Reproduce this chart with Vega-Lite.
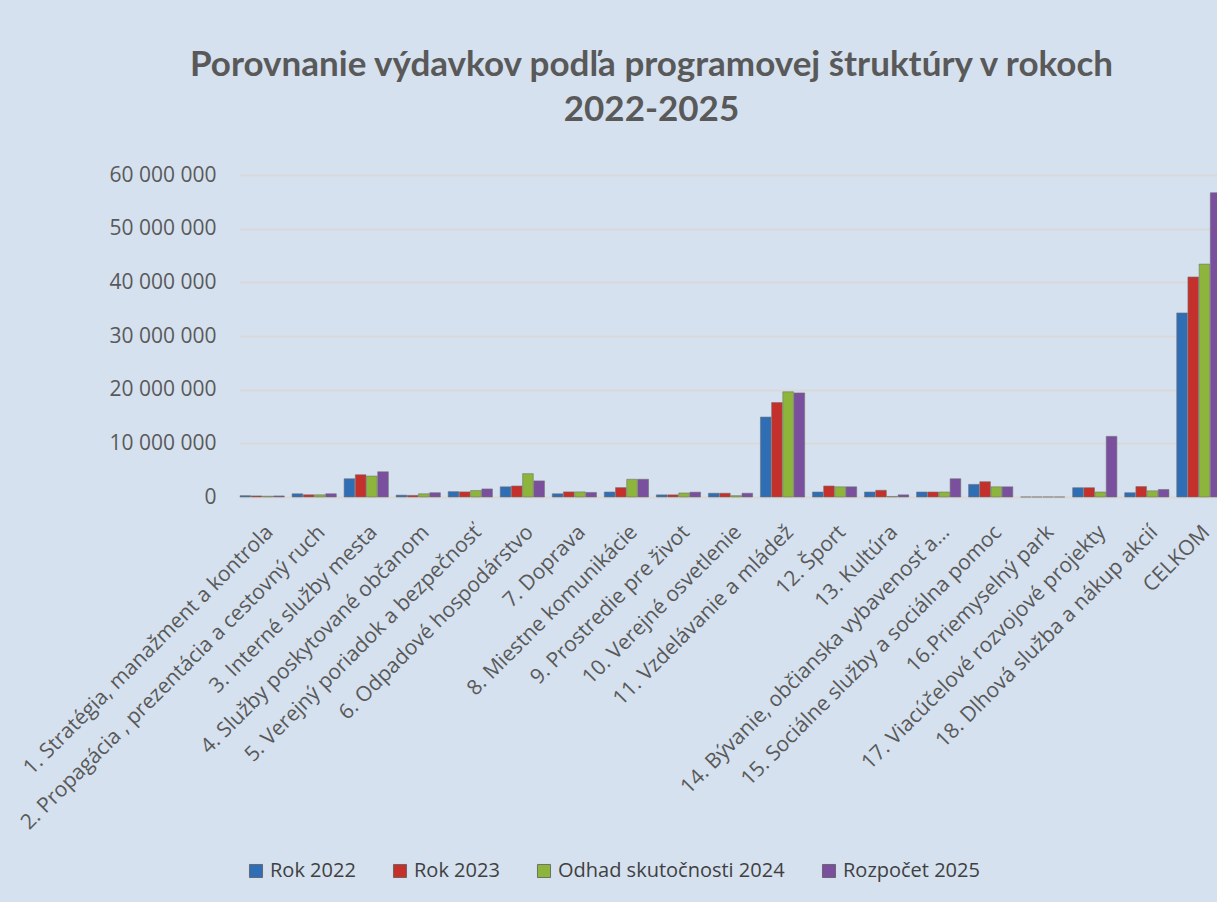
{
  "$schema": "https://vega.github.io/schema/vega-lite/v6.json",
  "autosize": {"type": "fit-x", "contains": "padding"},
  "width": 1217,
  "height": 322,
  "padding": {"top": 48, "left": 24, "right": -5, "bottom": 70},
  "background": "#d5e1ef",
  "config": {
    "view": {"stroke": null},
    "locale": {"number": {"decimal": ",", "thousands": " ", "grouping": [3], "currency": ["", " €"]}}
  },
  "title": {
    "text": ["Porovnanie výdavkov podľa programovej štruktúry v rokoch", "2022-2025"],
    "font": "Lato",
    "fontSize": 35,
    "fontWeight": "bold",
    "color": "#595959",
    "anchor": "middle",
    "frame": "group",
    "dx": -79,
    "offset": 36,
    "lineHeight": 45
  },
  "data": {
    "values": [
      {"program": "1. Stratégia, manažment a kontrola", "rok": "Rok 2022", "suma": 250000},
      {"program": "1. Stratégia, manažment a kontrola", "rok": "Rok 2023", "suma": 200000},
      {"program": "1. Stratégia, manažment a kontrola", "rok": "Odhad skutočnosti 2024", "suma": 150000},
      {"program": "1. Stratégia, manažment a kontrola", "rok": "Rozpočet 2025", "suma": 200000},
      {"program": "2. Propagácia , prezentácia a cestovný ruch", "rok": "Rok 2022", "suma": 600000},
      {"program": "2. Propagácia , prezentácia a cestovný ruch", "rok": "Rok 2023", "suma": 400000},
      {"program": "2. Propagácia , prezentácia a cestovný ruch", "rok": "Odhad skutočnosti 2024", "suma": 400000},
      {"program": "2. Propagácia , prezentácia a cestovný ruch", "rok": "Rozpočet 2025", "suma": 600000},
      {"program": "3. Interné služby mesta", "rok": "Rok 2022", "suma": 3400000},
      {"program": "3. Interné služby mesta", "rok": "Rok 2023", "suma": 4150000},
      {"program": "3. Interné služby mesta", "rok": "Odhad skutočnosti 2024", "suma": 3900000},
      {"program": "3. Interné služby mesta", "rok": "Rozpočet 2025", "suma": 4700000},
      {"program": "4. Služby poskytované  občanom", "rok": "Rok 2022", "suma": 350000},
      {"program": "4. Služby poskytované  občanom", "rok": "Rok 2023", "suma": 300000},
      {"program": "4. Služby poskytované  občanom", "rok": "Odhad skutočnosti 2024", "suma": 600000},
      {"program": "4. Služby poskytované  občanom", "rok": "Rozpočet 2025", "suma": 800000},
      {"program": "5. Verejný poriadok a bezpečnosť", "rok": "Rok 2022", "suma": 1000000},
      {"program": "5. Verejný poriadok a bezpečnosť", "rok": "Rok 2023", "suma": 950000},
      {"program": "5. Verejný poriadok a bezpečnosť", "rok": "Odhad skutočnosti 2024", "suma": 1200000},
      {"program": "5. Verejný poriadok a bezpečnosť", "rok": "Rozpočet 2025", "suma": 1500000},
      {"program": "6. Odpadové hospodárstvo", "rok": "Rok 2022", "suma": 1900000},
      {"program": "6. Odpadové hospodárstvo", "rok": "Rok 2023", "suma": 2050000},
      {"program": "6. Odpadové hospodárstvo", "rok": "Odhad skutočnosti 2024", "suma": 4350000},
      {"program": "6. Odpadové hospodárstvo", "rok": "Rozpočet 2025", "suma": 3000000},
      {"program": "7. Doprava", "rok": "Rok 2022", "suma": 600000},
      {"program": "7. Doprava", "rok": "Rok 2023", "suma": 950000},
      {"program": "7. Doprava", "rok": "Odhad skutočnosti 2024", "suma": 950000},
      {"program": "7. Doprava", "rok": "Rozpočet 2025", "suma": 850000},
      {"program": "8. Miestne komunikácie", "rok": "Rok 2022", "suma": 930000},
      {"program": "8. Miestne komunikácie", "rok": "Rok 2023", "suma": 1750000},
      {"program": "8. Miestne komunikácie", "rok": "Odhad skutočnosti 2024", "suma": 3300000},
      {"program": "8. Miestne komunikácie", "rok": "Rozpočet 2025", "suma": 3300000},
      {"program": "9. Prostredie pre život", "rok": "Rok 2022", "suma": 400000},
      {"program": "9. Prostredie pre život", "rok": "Rok 2023", "suma": 400000},
      {"program": "9. Prostredie pre život", "rok": "Odhad skutočnosti 2024", "suma": 750000},
      {"program": "9. Prostredie pre život", "rok": "Rozpočet 2025", "suma": 900000},
      {"program": "10. Verejné osvetlenie", "rok": "Rok 2022", "suma": 700000},
      {"program": "10. Verejné osvetlenie", "rok": "Rok 2023", "suma": 700000},
      {"program": "10. Verejné osvetlenie", "rok": "Odhad skutočnosti 2024", "suma": 250000},
      {"program": "10. Verejné osvetlenie", "rok": "Rozpočet 2025", "suma": 700000},
      {"program": "11. Vzdelávanie a mládež", "rok": "Rok 2022", "suma": 14900000},
      {"program": "11. Vzdelávanie a mládež", "rok": "Rok 2023", "suma": 17600000},
      {"program": "11. Vzdelávanie a mládež", "rok": "Odhad skutočnosti 2024", "suma": 19600000},
      {"program": "11. Vzdelávanie a mládež", "rok": "Rozpočet 2025", "suma": 19400000},
      {"program": "12. Šport", "rok": "Rok 2022", "suma": 930000},
      {"program": "12. Šport", "rok": "Rok 2023", "suma": 2050000},
      {"program": "12. Šport", "rok": "Odhad skutočnosti 2024", "suma": 1900000},
      {"program": "12. Šport", "rok": "Rozpočet 2025", "suma": 1900000},
      {"program": "13. Kultúra", "rok": "Rok 2022", "suma": 930000},
      {"program": "13. Kultúra", "rok": "Rok 2023", "suma": 1250000},
      {"program": "13. Kultúra", "rok": "Odhad skutočnosti 2024", "suma": 100000},
      {"program": "13. Kultúra", "rok": "Rozpočet 2025", "suma": 400000},
      {"program": "14. Bývanie, občianska vybavenosť a…", "rok": "Rok 2022", "suma": 930000},
      {"program": "14. Bývanie, občianska vybavenosť a…", "rok": "Rok 2023", "suma": 930000},
      {"program": "14. Bývanie, občianska vybavenosť a…", "rok": "Odhad skutočnosti 2024", "suma": 930000},
      {"program": "14. Bývanie, občianska vybavenosť a…", "rok": "Rozpočet 2025", "suma": 3400000},
      {"program": "15. Sociálne služby a sociálna pomoc", "rok": "Rok 2022", "suma": 2350000},
      {"program": "15. Sociálne služby a sociálna pomoc", "rok": "Rok 2023", "suma": 2850000},
      {"program": "15. Sociálne služby a sociálna pomoc", "rok": "Odhad skutočnosti 2024", "suma": 1900000},
      {"program": "15. Sociálne služby a sociálna pomoc", "rok": "Rozpočet 2025", "suma": 1900000},
      {"program": "16.Priemyselný park", "rok": "Rok 2022", "suma": 0},
      {"program": "16.Priemyselný park", "rok": "Rok 2023", "suma": 0},
      {"program": "16.Priemyselný park", "rok": "Odhad skutočnosti 2024", "suma": 0},
      {"program": "16.Priemyselný park", "rok": "Rozpočet 2025", "suma": 0},
      {"program": "17. Viacúčelové rozvojové projekty", "rok": "Rok 2022", "suma": 1730000},
      {"program": "17. Viacúčelové rozvojové projekty", "rok": "Rok 2023", "suma": 1730000},
      {"program": "17. Viacúčelové rozvojové projekty", "rok": "Odhad skutočnosti 2024", "suma": 930000},
      {"program": "17. Viacúčelové rozvojové projekty", "rok": "Rozpočet 2025", "suma": 11300000},
      {"program": "18. Dlhová služba a nákup akcií", "rok": "Rok 2022", "suma": 800000},
      {"program": "18. Dlhová služba a nákup akcií", "rok": "Rok 2023", "suma": 1950000},
      {"program": "18. Dlhová služba a nákup akcií", "rok": "Odhad skutočnosti 2024", "suma": 1150000},
      {"program": "18. Dlhová služba a nákup akcií", "rok": "Rozpočet 2025", "suma": 1400000},
      {"program": "CELKOM", "rok": "Rok 2022", "suma": 34300000},
      {"program": "CELKOM", "rok": "Rok 2023", "suma": 41000000},
      {"program": "CELKOM", "rok": "Odhad skutočnosti 2024", "suma": 43400000},
      {"program": "CELKOM", "rok": "Rozpočet 2025", "suma": 56700000}
    ]
  },
  "mark": {"type": "bar", "stroke": "#6f6f6f", "strokeWidth": 0.8, "strokeOpacity": 0.7},
  "encoding": {
    "x": {
      "field": "program",
      "type": "nominal",
      "sort": null,
      "scale": {"paddingInner": 0.15, "paddingOuter": 0.02},
      "axis": {
        "title": null,
        "labelAngle": -45,
        "labelAlign": "right",
        "labelBaseline": "top",
        "labelFont": "Open Sans",
        "labelFontSize": 21,
        "labelColor": "#595959",
        "labelPadding": 24,
        "labelLimit": 0,
        "labelOverlap": false,
        "ticks": false,
        "domainColor": "#d9d9d9",
        "domainWidth": 2
      }
    },
    "xOffset": {
      "field": "rok",
      "type": "nominal",
      "sort": ["Rok 2022", "Rok 2023", "Odhad skutočnosti 2024", "Rozpočet 2025"],
      "scale": {"paddingInner": 0.05}
    },
    "y": {
      "field": "suma",
      "type": "quantitative",
      "scale": {"domain": [0, 60000000]},
      "axis": {
        "title": null,
        "values": [0, 10000000, 20000000, 30000000, 40000000, 50000000, 60000000],
        "format": ",d",
        "labelOverlap": false,
        "labelFont": "Open Sans",
        "labelFontSize": 21,
        "labelColor": "#595959",
        "labelPadding": 23,
        "ticks": false,
        "domain": false,
        "gridColor": "#d9d9d9",
        "gridWidth": 2
      }
    },
    "color": {
      "field": "rok",
      "type": "nominal",
      "scale": {
        "domain": ["Rok 2022", "Rok 2023", "Odhad skutočnosti 2024", "Rozpočet 2025"],
        "range": ["#2f6eb5", "#c4302b", "#8db53c", "#7a4f9e"]
      },
      "legend": {
        "title": null,
        "orient": "none",
        "direction": "horizontal",
        "legendX": 7,
        "legendY": 686,
        "symbolType": "square",
        "symbolSize": 170,
        "symbolStrokeColor": "#5a5a5a",
        "symbolStrokeWidth": 0.8,
        "labelFont": "Open Sans",
        "labelFontSize": 20,
        "labelColor": "#404040",
        "labelOffset": 4,
        "columnPadding": 34,
        "labelLimit": 0
      }
    }
  }
}
